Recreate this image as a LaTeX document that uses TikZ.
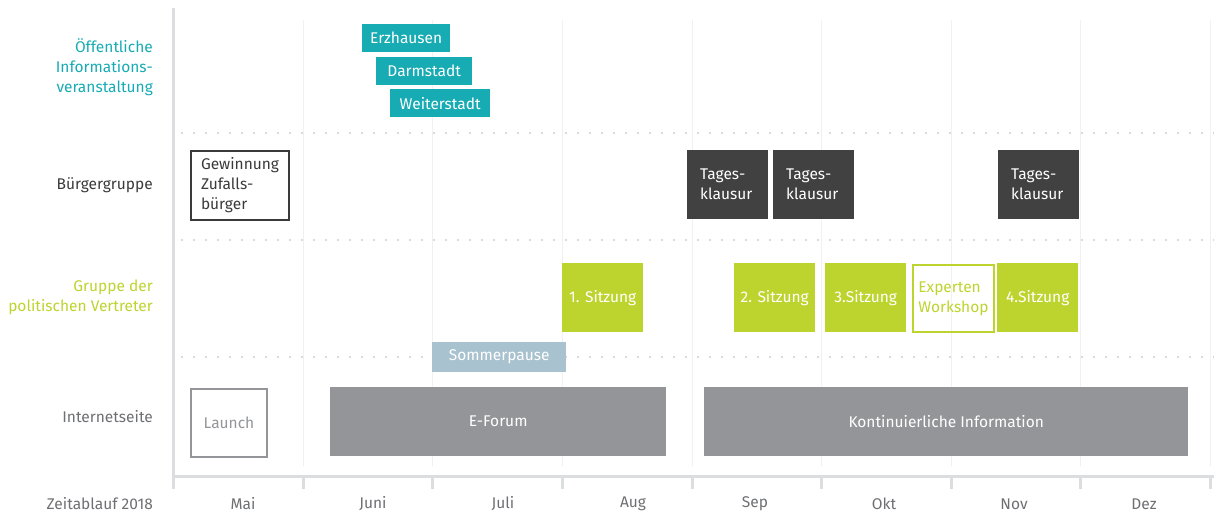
\documentclass[tikz,border=0pt]{standalone}
\usepackage{fontspec}
\setmainfont{Fira Sans}

\definecolor{infoteal}{HTML}{17ABB3}
\definecolor{darkbox}{HTML}{414142}
\definecolor{darktext}{HTML}{3A3A3B}
\definecolor{greenbox}{HTML}{BED42E}
\definecolor{pauseblue}{HTML}{A9C2D0}
\definecolor{webgrey}{HTML}{939598}
\definecolor{labelgrey}{HTML}{6E6F72}
\definecolor{axisgrey}{HTML}{DCDDDF}
\definecolor{gridgrey}{HTML}{F1F1F2}
\definecolor{dotgrey}{HTML}{CBCCCE}

\newcommand{\chartfont}{\fontsize{15.5}{20}\selectfont}

\tikzset{
  rowlabel/.style={anchor=east, align=right, inner sep=0pt, font=\chartfont},
  monthlabel/.style={inner sep=0pt, font=\chartfont, text=labelgrey},
  bar/.style={anchor=north west, inner sep=0pt, font=\chartfont, text=white},
  infobar/.style={bar, fill=infoteal, minimum height=28},
  klausur/.style={bar, fill=darkbox, minimum height=69, text width=55, inner xsep=13, align=left},
  sitzung/.style={bar, fill=greenbox, minimum width=81, minimum height=69},
  webbar/.style={bar, fill=webgrey, minimum height=69},
  rowsep/.style={dotgrey, line width=2.3pt, line cap=round, dash pattern=on 0pt off 12pt},
  gridline/.style={gridgrey, line width=1pt},
  axisline/.style={axisgrey, line width=3pt}
}

\begin{document}
\begin{tikzpicture}[x=1pt, y=-1pt]
\useasboundingbox (0,0) rectangle (1214,514);

% month grid
\draw[gridline] (303,20) -- (303,466);
\draw[gridline] (432,20) -- (432,466);
\draw[gridline] (562,20) -- (562,466);
\draw[gridline] (692,20) -- (692,466);
\draw[gridline] (821,20) -- (821,466);
\draw[gridline] (951,20) -- (951,466);
\draw[gridline] (1080,20) -- (1080,466);
\draw[gridline] (1210,20) -- (1210,466);

% row separators
\draw[rowsep] (182,133) -- (1214,133);
\draw[rowsep] (182,240) -- (1214,240);
\draw[rowsep] (182,357) -- (1214,357);

% axes and ticks
\draw[axisline] (173,8) -- (173,489);
\draw[axisline] (173,476) -- (1214,476);
\draw[axisline] (303,476) -- (303,489);
\draw[axisline] (432,476) -- (432,489);
\draw[axisline] (562,476) -- (562,489);
\draw[axisline] (692,476) -- (692,489);
\draw[axisline] (821,476) -- (821,489);
\draw[axisline] (951,476) -- (951,489);
\draw[axisline] (1080,476) -- (1080,489);
\draw[axisline] (1210,476) -- (1210,489);

% row labels
\node[rowlabel, text=infoteal] (lab-info) at (153,67) {Öffentliche\\Informations-\\veranstaltung};
\node[rowlabel, text=darktext] (lab-buerger) at (153,185) {Bürgergruppe};
\node[rowlabel, text=greenbox] (lab-polit) at (153,297) {Gruppe der\\politischen Vertreter};
\node[rowlabel, text=labelgrey] (lab-web) at (153,417) {Internetseite};
\node[rowlabel, text=labelgrey] (lab-zeit) at (153,504) {Zeitablauf 2018};

% months
\node[monthlabel] (mai) at (243,504) {Mai};
\node[monthlabel] (juni) at (373,504) {Juni};
\node[monthlabel] (juli) at (503,504) {Juli};
\node[monthlabel] (aug) at (633,504) {Aug};
\node[monthlabel] (sep) at (755,504) {Sep};
\node[monthlabel] (okt) at (884,504) {Okt};
\node[monthlabel] (nov) at (1014,504) {Nov};
\node[monthlabel] (dez) at (1144,504) {Dez};

% public information events
\node[infobar, minimum width=88] (erzhausen) at (362,24) {Erzhausen};
\node[infobar, minimum width=96] (darmstadt) at (376,57) {Darmstadt};
\node[infobar, minimum width=100] (weiterstadt) at (390,89) {Weiterstadt};

% citizens group
\node[bar, draw=darktext, line width=2pt, text=darktext, minimum height=69, text width=78, inner xsep=10, align=left] (zufall) at (190,150) {Gewinnung\\Zufalls-\\bürger};
\node[klausur] (klausur1) at (687,150) {Tages-\\klausur};
\node[klausur] (klausur2) at (773,150) {Tages-\\klausur};
\node[klausur] (klausur3) at (998,150) {Tages-\\klausur};

% political representatives
\node[sitzung] (sitzung1) at (562,263) {1. Sitzung};
\node[sitzung] (sitzung2) at (734,263) {2. Sitzung};
\node[sitzung] (sitzung3) at (825,263) {3.Sitzung};
\node[bar, draw=greenbox, line width=2pt, text=greenbox, minimum width=81, minimum height=67, align=left] (workshop) at (912,264) {Experten\\Workshop};
\node[sitzung] (sitzung4) at (997,263) {4.Sitzung};

% summer break
\node[bar, fill=pauseblue, minimum width=134, minimum height=30] (pause) at (432,342) {Sommerpause};

% website
\node[bar, draw=webgrey, line width=2pt, text=webgrey, minimum width=76, minimum height=68] (launch) at (190,388) {Launch};
\node[webbar, minimum width=336] (eforum) at (330,387) {E-Forum};
\node[webbar, minimum width=484] (info) at (704,387) {Kontinuierliche Information};
\end{tikzpicture}
\end{document}
